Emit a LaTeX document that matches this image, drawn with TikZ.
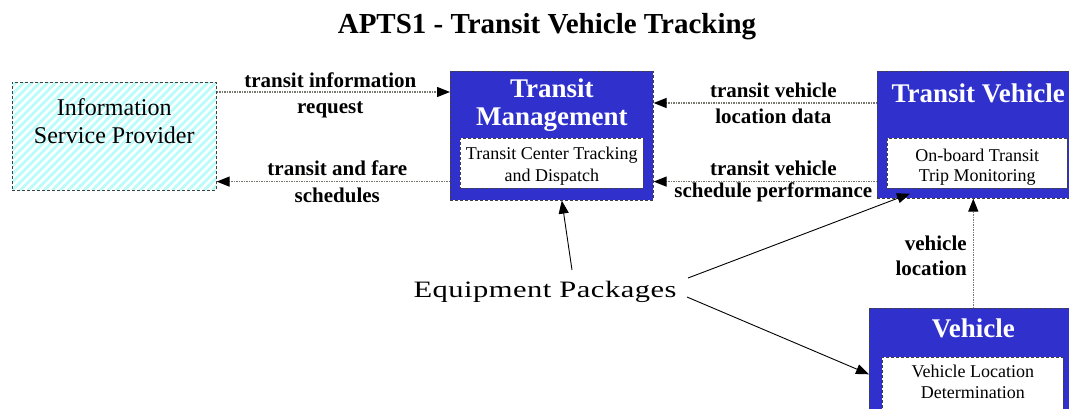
\documentclass[tikz,border=0pt]{standalone}
\usepackage{fontspec}
\setmainfont{Liberation Serif}
\newfontfamily\eqfont[FakeStretch=1.3,LetterSpace=2]{Liberation Serif}
\usetikzlibrary{arrows.meta}
\definecolor{tblue}{RGB}{48,48,204}
\definecolor{ispcyan}{RGB}{190,252,252}
\definecolor{linegray}{RGB}{120,120,110}
\tikzset{
  box/.style={draw=black!75, densely dashed, line width=0.6pt, anchor=north west, inner sep=0pt},
  bluebox/.style={box, fill=tblue},
  subbox/.style={box, fill=white},
  isphatch/.style={box, fill=white, path picture={
      \foreach \k in {-120,-112,...,220}{
        \draw[ispcyan, line width=3pt, solid]
          ([xshift=\k pt]path picture bounding box.south west) -- ++(130,-130);}}},
  boxtitle/.style={font=\fontsize{27}{30}\selectfont\bfseries, text=white, anchor=base, inner sep=0pt},
  boxtext/.style={font=\fontsize{18}{21}\selectfont, anchor=base, inner sep=0pt},
  isptext/.style={font=\fontsize{24}{28}\selectfont, anchor=base, inner sep=0pt},
  lbl/.style={font=\fontsize{21}{24}\selectfont\bfseries, anchor=base, inner sep=0pt},
  flow/.style={draw=linegray, line width=1.2pt, dash pattern=on 1.5pt off 1pt,
    -{Triangle[length=13pt,width=10pt,color=black]}},
  ptr/.style={draw=black, line width=0.9pt, -{Triangle[length=13pt,width=10pt]}}
}
\begin{document}
\begin{tikzpicture}[x=1pt,y=-1pt]
\useasboundingbox (0,0) rectangle (1069,408);
\clip (0,0) rectangle (1069,408);

% heading
\node[font=\fontsize{29}{34}\selectfont\bfseries, anchor=base] (title) at (547,33)
  {APTS1 - Transit Vehicle Tracking};

% terminator: Information Service Provider
\node[isphatch, minimum width=204pt, minimum height=108pt] (isp) at (12,82) {};
\node[isptext] (isp1) at ([yshift=-33pt]isp.north) {Information};
\node[isptext] (isp2) at ([yshift=-61pt]isp.north) {Service Provider};

% subsystem: Transit Management
\node[bluebox, minimum width=203pt, minimum height=129pt] (tm) at (450,71) {};
\node[boxtitle] (tm1) at ([yshift=-26pt]tm.north) {Transit};
\node[boxtitle] (tm2) at ([yshift=-54pt]tm.north) {Management};
\node[subbox, minimum width=183pt, minimum height=50pt] (tmsub) at (460,138) {};
\node[boxtext] (tms1) at ([yshift=-21pt]tmsub.north) {Transit Center Tracking};
\node[boxtext] (tms2) at ([yshift=-43pt]tmsub.north) {and Dispatch};

% subsystem: Transit Vehicle
\node[bluebox, minimum width=202pt, minimum height=127pt] (tv) at (877,71) {};
\node[boxtitle] (tv1) at ([yshift=-31pt]tv.north) {Transit Vehicle};
\node[subbox, minimum width=180pt, minimum height=50pt] (tvsub) at (887,138) {};
\node[boxtext] (tvs1) at ([yshift=-23pt]tvsub.north) {On-board Transit};
\node[boxtext] (tvs2) at ([yshift=-43pt]tvsub.north) {Trip Monitoring};

% subsystem: Vehicle
\node[bluebox, minimum width=208pt, minimum height=132pt] (veh) at (869,308) {};
\node[boxtitle] (veh1) at ([yshift=-29pt]veh.north) {Vehicle};
\node[subbox, minimum width=181pt, minimum height=80pt] (vehsub) at (882,357) {};
\node[boxtext] (vehs1) at ([yshift=-20pt]vehsub.north) {Vehicle Location};
\node[boxtext] (vehs2) at ([yshift=-41pt]vehsub.north) {Determination};

% architecture flows
\coordinate (r1) at ([yshift=-21pt]tm.north west);
\coordinate (r2) at ([yshift=19pt]tm.south west);
\coordinate (r3) at ([yshift=-32pt]tv.north west);
\coordinate (r4) at ([yshift=17pt]tv.south west);

\draw[flow] (isp.east |- r1) -- (r1)
  node[lbl, pos=0.5, xshift=-3pt, yshift=5pt] (f1a) {transit information}
  node[lbl, pos=0.5, xshift=-3pt, yshift=-21pt] (f1b) {request};
\draw[flow] (r2) -- (isp.east |- r2)
  node[lbl, pos=0.5, xshift=4pt, yshift=6pt] (f2a) {transit and fare}
  node[lbl, pos=0.5, xshift=4pt, yshift=-21pt] (f2b) {schedules};
\draw[flow] (r3) -- (tm.east |- r3)
  node[lbl, pos=0.5, xshift=8pt, yshift=6pt] (f3a) {transit vehicle}
  node[lbl, pos=0.5, xshift=8pt, yshift=-20pt] (f3b) {location data};
\draw[flow] (r4) -- (tm.east |- r4)
  node[lbl, pos=0.5, xshift=8pt, yshift=6pt] (f4a) {transit vehicle}
  node[lbl, pos=0.5, xshift=8pt, yshift=-16pt] (f4b) {schedule performance};
\draw[flow] (veh.north) -- (veh.north |- tv.south)
  node[lbl, anchor=base east, pos=0.527, xshift=-6pt] (f5a) {vehicle}
  node[lbl, anchor=base east, pos=0.3, xshift=-6pt] (f5b) {location};

% equipment package callout
\node[font=\eqfont\fontsize{23.5}{27}\selectfont, anchor=base] (eq) at (545,297) {Equipment Packages};
\draw[ptr] ([xshift=27pt,yshift=27pt]eq.base) -- ([xshift=10pt]tm.south);
\draw[ptr] ([xshift=143pt,yshift=19pt]eq.base) -- ([xshift=33pt,yshift=5pt]tv.south west);
\draw[ptr] ([xshift=142pt]eq.base) -- (veh.west);
\end{tikzpicture}
\end{document}
